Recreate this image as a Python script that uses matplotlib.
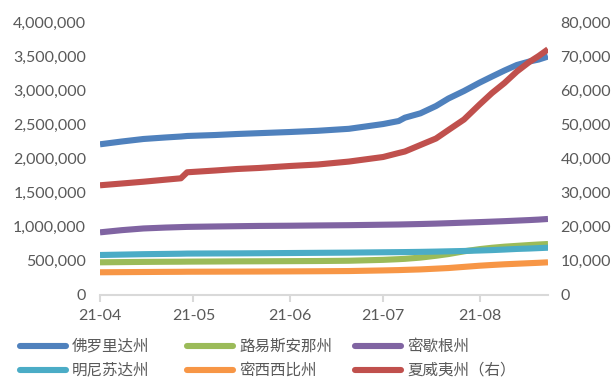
import matplotlib
matplotlib.use("Agg")
import matplotlib.pyplot as plt
import matplotlib.dates as mdates
from matplotlib.lines import Line2D
from matplotlib.ticker import FuncFormatter, MultipleLocator
import pandas as pd

plt.rcParams['font.family'] = ['Lato', 'Noto Sans CJK SC', 'DejaVu Sans']

# Cumulative COVID-19 cases, 2021-04 to 2021-08
dates = pd.to_datetime([
    "2021-04-01", "2021-04-08", "2021-04-15", "2021-04-22", "2021-04-27",
    "2021-04-29", "2021-05-08", "2021-05-15", "2021-05-22", "2021-06-01",
    "2021-06-10", "2021-06-20", "2021-07-01", "2021-07-06", "2021-07-08",
    "2021-07-13", "2021-07-18", "2021-07-22", "2021-07-27", "2021-08-01",
    "2021-08-05", "2021-08-09", "2021-08-13", "2021-08-17", "2021-08-20",
    "2021-08-23",
])
florida = [2208000, 2249000, 2286000, 2308000, 2322000, 2330000, 2344000,
           2359000, 2371000, 2388000, 2406000, 2435000, 2505000, 2549000,
           2598000, 2662000, 2769000, 2879000, 2989000, 3111000, 3201000,
           3289000, 3370000, 3421000, 3450000, 3494000]
louisiana = [479000, 482000, 485000, 487000, 488000, 489000, 491000,
             493000, 494000, 496000, 498000, 502000, 515000, 525000,
             530000, 548000, 575000, 600000, 640000, 672000, 692000,
             708000, 720000, 732000, 740000, 747000]
michigan = [918000, 950000, 975000, 988000, 995000, 998000, 1004000,
            1008000, 1012000, 1015000, 1019000, 1023000, 1030000, 1033000,
            1035000, 1040000, 1046000, 1052000, 1060000, 1068000, 1075000,
            1082000, 1090000, 1098000, 1105000, 1114000]
minnesota = [586000, 592000, 598000, 602000, 605000, 607000, 609000,
             610000, 612000, 615000, 618000, 621000, 626000, 628000,
             629000, 632000, 636000, 640000, 645000, 652000, 658000,
             666000, 675000, 681000, 687000, 693000]
mississippi = [333000, 335000, 337000, 339000, 340000, 341000, 342000,
               343000, 344000, 346000, 348000, 351000, 360000, 365000,
               368000, 375000, 386000, 395000, 412000, 429000, 440000,
               450000, 458000, 466000, 472000, 479000]
hawaii = [32150, 32670, 33200, 33790, 34200, 35960, 36480, 36920, 37220,
          37800, 38240, 39100, 40440, 41610, 42050, 43960, 45860, 48350,
          51430, 55820, 59190, 62120, 65490, 68280, 70040, 72000]

labels = ["佛罗里达州", "路易斯安那州", "密歇根州",
          "明尼苏达州", "密西西比州", "夏威夷州（右）"]
colors = ["#4F81BD", "#9BBB59", "#8064A2", "#4BACC6", "#F79646", "#C0504D"]
month_ticks = pd.to_datetime(["2021-04-01", "2021-05-01", "2021-06-01",
                              "2021-07-01", "2021-08-01"])

W, H = 614, 381
fig = plt.figure(figsize=(W / 100, H / 100), dpi=100)
ax = fig.add_axes([100 / W, 1 - 295 / H, 448 / W, 273 / H])
ax2 = ax.twinx()

lw = 4.4
left_series = [florida, louisiana, michigan, minnesota, mississippi]
order = [4, 1, 3, 2, 0]  # draw order so Florida sits on top
for i in order:
    ax.plot(dates, left_series[i], color=colors[i], lw=lw,
            solid_capstyle='butt', solid_joinstyle='round', zorder=3)
ax2.plot(dates, hawaii, color=colors[5], lw=lw, solid_capstyle='butt',
         solid_joinstyle='round', zorder=3)

ax.set_xlim(dates[0], dates[-1])
ax.set_ylim(0, 4000000)
ax2.set_ylim(0, 80000)
ax.yaxis.set_major_locator(MultipleLocator(500000))
ax2.yaxis.set_major_locator(MultipleLocator(10000))
fmt = FuncFormatter(lambda v, p: f"{int(v):,}")
ax.yaxis.set_major_formatter(fmt)
ax2.yaxis.set_major_formatter(fmt)

ax.set_xticks(month_ticks)
ax.xaxis.set_major_formatter(mdates.DateFormatter("%y-%m"))

grey = "#595959"
for a in (ax, ax2):
    for s in a.spines.values():
        s.set_visible(False)
    a.tick_params(axis='y', length=0, labelcolor=grey, labelsize=11.5)
ax.spines['bottom'].set_visible(True)
ax.spines['bottom'].set_color("#D9D9D9")
ax.spines['bottom'].set_linewidth(1.5)
ax.tick_params(axis='y', pad=10)
ax2.tick_params(axis='y', pad=9)
ax.tick_params(axis='x', length=5, width=1.5, color="#D9D9D9",
               labelcolor=grey, labelsize=11.5, pad=5)

# legend laid out in a fixed 3-column grid
col_x = [20, 187, 355]
row_y = [346, 370]
handle_len = 46
for k, (lab, c) in enumerate(zip(labels, colors)):
    r, cidx = divmod(k, 3)
    x0 = col_x[cidx]
    y0 = 1 - row_y[r] / H
    fig.add_artist(Line2D([x0 / W, (x0 + handle_len) / W], [y0, y0],
                          color=c, lw=4.4, solid_capstyle='round',
                          transform=fig.transFigure))
    fig.text((x0 + handle_len + 6) / W, y0, lab, color=grey, fontsize=11.2,
             va='center', ha='left',
             family=['Noto Sans CJK SC', 'DejaVu Sans'])

fig.savefig("out.png", dpi=100)
